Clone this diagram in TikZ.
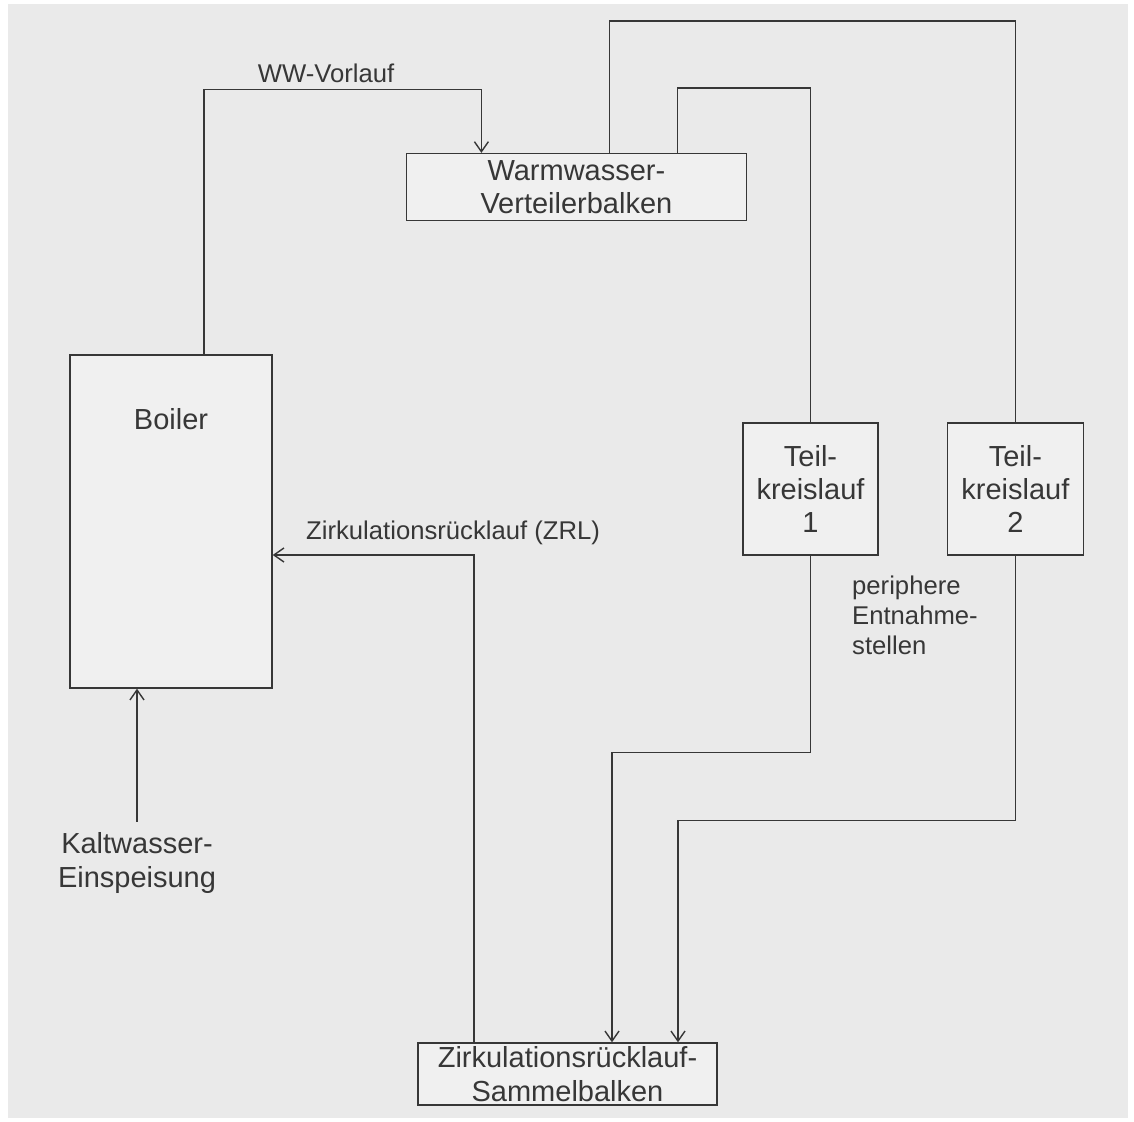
\documentclass[tikz,border=0pt]{standalone}
\usepackage{fontspec}
\setmainfont{Liberation Sans}
\usetikzlibrary{arrows.meta, positioning}
\definecolor{scan}{RGB}{234,234,234}
\definecolor{boxfill}{RGB}{240,240,240}
\definecolor{ink}{RGB}{55,55,55}

\begin{document}
\begin{tikzpicture}[
    box/.style={draw=ink, line width=0.8pt, fill=boxfill, rectangle, align=center, text=ink, font=\fontsize{16.5}{19}\selectfont, inner sep=0pt},
    lbl/.style={text=ink, font=\fontsize{14.6}{17}\selectfont, align=center},
    line/.style={draw=ink, line width=0.8pt},
    arrow/.style={line, -{Straight Barb[length=2mm, width=2.8mm]}}
]
    % frame
    \useasboundingbox (0,0) rectangle (22.68,-22.44);
    \fill[scan] (0.16,-0.08) rectangle (22.56,-22.36);

    % Boiler
    \node[box, minimum width=4.04cm, minimum height=6.66cm] (boiler) at (3.42,-10.43) {};
    \node[box, draw=none, fill=none] (boilertxt) at ([yshift=-1.3cm]boiler.north) {Boiler};

    % Warmwasser-Verteilerbalken
    \node[box, minimum width=6.8cm, minimum height=1.34cm, above right=2.66cm and 2.66cm of boiler] (warm) {Warmwasser-\\Verteilerbalken};

    % Teilkreislaeufe
    \node[box, minimum width=2.7cm, minimum height=2.64cm] (teil1) at (16.21,-9.78) {Teil-\\kreislauf\\1};
    \node[box, minimum width=2.72cm, minimum height=2.64cm, right=1.36cm of teil1] (teil2) {Teil-\\kreislauf\\2};

    % Sammelbalken
    \node[box, minimum width=5.98cm, minimum height=1.24cm] (sammel) at (11.35,-21.48) {Zirkulationsrücklauf-\\Sammelbalken};

    % Kaltwasser / Entnahmestellen
    \node[lbl, font=\fontsize{16.5}{19}\selectfont] (kalt) at (2.74,-17.26) {Kaltwasser-\\Einspeisung};
    \node[lbl, align=left, anchor=north west] (peri) at (16.92,-11.4) {periphere\\Entnahme-\\stellen};

    % Vorlauf
    \draw[arrow] ([xshift=0.66cm]boiler.north) -- ++(0,5.3) -| node[lbl, above, pos=0.22] (ww) {WW-Vorlauf} ([xshift=-1.9cm]warm.north);
    \draw[line] ([xshift=0.66cm]warm.north) -- ++(0,2.64) -| (teil2.north);
    \draw[line] ([xshift=2.02cm]warm.north) -- ++(0,1.3) -| (teil1.north);

    % Ruecklauf
    \draw[arrow] (teil1.south) -- ++(0,-3.94) -| ([xshift=0.89cm]sammel.north);
    \draw[arrow] (teil2.south) -- ++(0,-5.3) -| ([xshift=2.21cm]sammel.north);
    \draw[arrow] ([xshift=-1.87cm]sammel.north) |- node[lbl, above=2pt, pos=0.552] (zrl) {Zirkulationsrücklauf (ZRL)} ([yshift=-0.67cm]boiler.east);

    % Einspeisung
    \draw[arrow] ([yshift=0.1cm]kalt.north) -- (kalt.north |- boiler.south);
\end{tikzpicture}
\end{document}
